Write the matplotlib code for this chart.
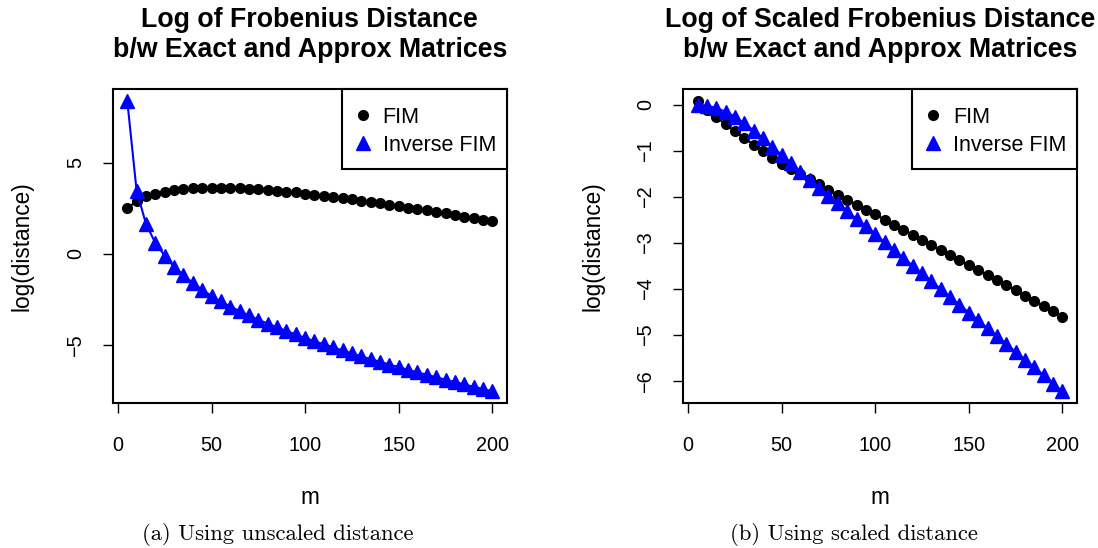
import matplotlib
matplotlib.use("Agg")
import matplotlib.pyplot as plt
from matplotlib.patches import Rectangle
import numpy as np

plt.rcParams['font.family'] = ['Liberation Sans', 'DejaVu Sans']

# Data
m = list(range(5, 205, 5))

fim_unscaled = [2.49, 2.9, 3.15, 3.3, 3.42, 3.5, 3.56, 3.6, 3.62, 3.64,
                3.64, 3.63, 3.61, 3.58, 3.55, 3.51, 3.47, 3.42, 3.37, 3.31,
                3.25, 3.19, 3.13, 3.06, 2.99, 2.92, 2.85, 2.77, 2.7, 2.62,
                2.54, 2.46, 2.38, 2.3, 2.22, 2.14, 2.05, 1.96, 1.87, 1.78]
inv_unscaled = [8.4, 3.45, 1.65, 0.6, -0.1, -0.7, -1.17, -1.58, -1.96, -2.3,
                -2.6, -2.88, -3.13, -3.37, -3.6, -3.82, -4.02, -4.22, -4.41, -4.6,
                -4.78, -4.95, -5.12, -5.29, -5.45, -5.61, -5.76, -5.91, -6.06, -6.2,
                -6.35, -6.49, -6.62, -6.76, -6.89, -7.02, -7.15, -7.28, -7.4, -7.53]

fim_scaled = [0.09, -0.12, -0.27, -0.42, -0.58, -0.72, -0.87, -1.0, -1.15, -1.28,
              -1.4, -1.51, -1.62, -1.73, -1.84, -1.95, -2.06, -2.17, -2.28, -2.38,
              -2.49, -2.6, -2.71, -2.82, -2.93, -3.04, -3.15, -3.26, -3.37, -3.48,
              -3.59, -3.7, -3.81, -3.92, -4.03, -4.14, -4.26, -4.37, -4.48, -4.6]
inv_scaled = [0.0, -0.02, -0.07, -0.15, -0.26, -0.4, -0.56, -0.73, -0.91, -1.09,
              -1.27, -1.45, -1.63, -1.8, -1.97, -2.14, -2.31, -2.48, -2.64, -2.81,
              -2.98, -3.15, -3.32, -3.49, -3.66, -3.83, -4.0, -4.17, -4.34, -4.51,
              -4.68, -4.85, -5.02, -5.19, -5.36, -5.53, -5.7, -5.87, -6.05, -6.22]

titles = ["Log of Frobenius Distance\nb/w Exact and Approx Matrices",
          "Log of Scaled Frobenius Distance\nb/w Exact and Approx Matrices"]
captions = ["(a) Using unscaled distance", "(b) Using scaled distance"]
yticks = [[-5, 0, 5], [-6, -5, -4, -3, -2, -1, 0]]
xticks = [0, 50, 100, 150, 200]

fig = plt.figure(figsize=(10.98, 5.48), dpi=100)
ax1 = fig.add_axes([0.1026, 0.2646, 0.3591, 0.573])
ax2 = fig.add_axes([0.622, 0.2646, 0.3588, 0.573])

panels = [(ax1, fim_unscaled, inv_unscaled), (ax2, fim_scaled, inv_scaled)]
for i, (ax, fim, inv) in enumerate(panels):
    ax.plot(m, fim, '-', color='black', lw=1.5, marker='o', markersize=7,
            label='FIM')
    ax.plot(m, inv, '-', color='blue', lw=1.5, marker='^', markersize=10.5,
            label='Inverse FIM')

    lo = min(min(fim), min(inv))
    hi = max(max(fim), max(inv))
    pad = 0.04 * (hi - lo)
    ax.set_ylim(lo - pad, hi + pad)
    ax.set_xlim(5 - 0.04 * 195, 200 + 0.04 * 195)

    ax.set_xticks(xticks)
    ax.set_yticks(yticks[i])
    ax.tick_params(axis='both', length=7, width=1, labelsize=14.3,
                   direction='out')
    ax.tick_params(axis='x', pad=17)
    ax.tick_params(axis='y', pad=13)
    for lab in ax.get_yticklabels():
        lab.set_rotation(90)
        lab.set_va('center')
    for s in ax.spines.values():
        s.set_linewidth(1.5)

    ax.set_ylabel('log(distance)', fontsize=16.3)
    ax.yaxis.set_label_coords(-0.20, 0.5)
    ax.set_xlabel('m', fontsize=16.3)
    ax.xaxis.set_label_coords(0.5, -0.30)
    ax.xaxis.label.set_va('center')

    ax.text(0.5, 1.172, titles[i], transform=ax.transAxes, ha='center',
            va='center', fontsize=19.3, fontweight='bold', linespacing=1.2)

    # legend box like R's, frame drawn separately
    ax.add_patch(Rectangle((0.5815, 0.745), 0.4185, 0.255, transform=ax.transAxes,
                           fill=True, facecolor='white', edgecolor='black',
                           lw=1.5, zorder=4, clip_on=False))
    leg = ax.legend(loc='center', bbox_to_anchor=(0.79, 0.865), frameon=False,
                    fontsize=15.5, handletextpad=0.42, handlelength=1.0,
                    borderpad=0, labelspacing=0.33, borderaxespad=0)
    leg.set_zorder(5)
    for h in leg.legend_handles:
        h.set_linestyle('None')

fig.text(278 / 1098, 1 - 535 / 548, captions[0], ha='center', va='center',
         family='cmr10', fontsize=16.3)
fig.text(854 / 1098, 1 - 535 / 548, captions[1], ha='center', va='center',
         family='cmr10', fontsize=16.3)

fig.savefig('out.png', dpi=100)
